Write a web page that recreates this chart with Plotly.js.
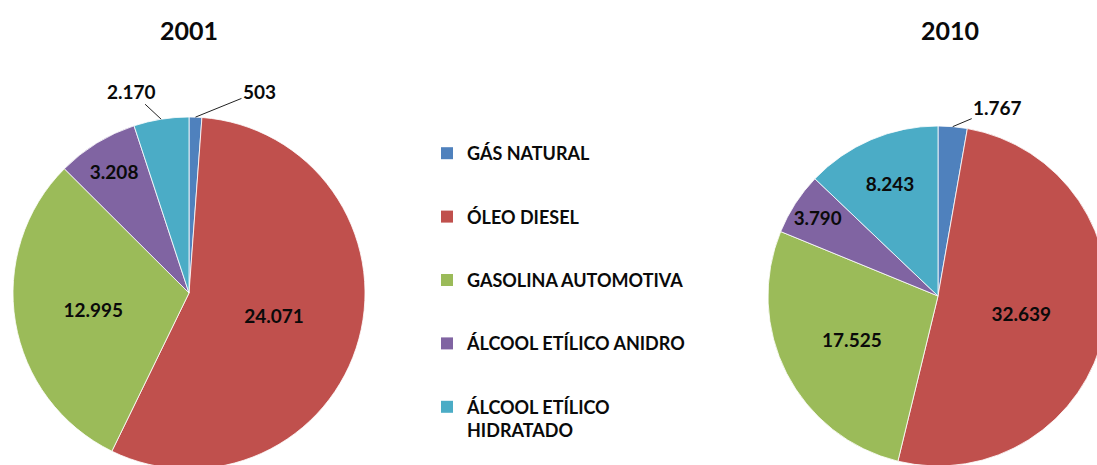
<!DOCTYPE html>
<html>
<head>
<meta charset="utf-8">
<script src="https://cdn.plot.ly/plotly-3.0.1.min.js"></script>
<style>
  html, body { margin: 0; padding: 0; overflow: hidden; background: #fff; }
  #chart { width: 1120px; height: 480px; }
</style>
</head>
<body>
<div id="chart"></div>
<script>
// ---- data ----
const categories = ['GÁS NATURAL', 'ÓLEO DIESEL', 'GASOLINA AUTOMOTIVA', 'ÁLCOOL ETÍLICO ANIDRO', 'ÁLCOOL ETÍLICO<br>HIDRATADO'];
const values2001 = [503, 24071, 12995, 3208, 2170];
const values2010 = [1767, 32639, 17525, 3790, 8243];
const years = ['2001', '2010'];
const colors = ['#4F81BD', '#C0504D', '#9BBB59', '#8064A2', '#4BACC6'];

// ---- layout constants ----
const W = 1120, H = 480;
const FONT = 'Lato, "Open Sans", sans-serif';
const pies = [
  { vals: values2001, cx: 189, cy: 293, r: 176, pos: ['none', 'inside', 'inside', 'inside', 'none'],
    outside: { 0: [64, -26], 4: [-30, -28] }, titleX: 189 },
  { vals: values2010, cx: 938, cy: 296, r: 170, pos: ['none', 'inside', 'inside', 'inside', 'inside'],
    outside: { 0: [45, -19] }, titleX: 950 }
];

function fmt(v) { return String(v).replace(/\B(?=(\d{3})+(?!\d))/g, '.'); }

const traces = [];
const annotations = [];

pies.forEach((p, k) => {
  traces.push({
    type: 'pie',
    labels: categories,
    values: p.vals,
    sort: false,
    direction: 'clockwise',
    rotation: 0,
    marker: { colors: colors, line: { color: '#ffffff', width: 0.8 } },
    texttemplate: '%{value:,}',
    textposition: p.pos,
    insidetextorientation: 'horizontal',
    insidetextfont: { family: FONT, size: 19, color: '#0a0a0a', weight: 'bold' },
    hoverinfo: 'label+value',
    showlegend: false,
    domain: { x: [(p.cx - p.r) / W, (p.cx + p.r) / W], y: [1 - (p.cy + p.r) / H, 1 - (p.cy - p.r) / H] }
  });
  // year title
  annotations.push({
    text: years[k], xref: 'paper', yref: 'paper', x: p.titleX / W, y: 1 - 30 / H,
    xanchor: 'center', yanchor: 'middle', showarrow: false,
    font: { family: FONT, size: 25, color: '#0a0a0a', weight: 'bold' }
  });
  // outside labels with leader lines, positioned from the data
  const total = p.vals.reduce((a, b) => a + b, 0);
  let cum = 0;
  p.vals.forEach((v, i) => {
    const mid = (cum + v / 2) / total * 2 * Math.PI;
    cum += v;
    if (p.outside[i]) {
      const px = p.cx + p.r * Math.sin(mid);
      const py = p.cy - p.r * Math.cos(mid);
      annotations.push({
        text: fmt(v), xref: 'paper', yref: 'paper', x: px / W, y: 1 - py / H,
        showarrow: true, arrowhead: 0, arrowwidth: 1, arrowcolor: '#222',
        ax: p.outside[i][0], ay: p.outside[i][1], standoff: 0,
        font: { family: FONT, size: 19, color: '#0a0a0a', weight: 'bold' }
      });
    }
  });
});

// legend entries (one per category, spaced as groups)
categories.forEach((c, i) => {
  traces.push({
    type: 'scatter', mode: 'markers', x: [null], y: [null],
    name: c, legendgroup: 'g' + i,
    marker: { symbol: 'square', size: 12, color: colors[i] },
    hoverinfo: 'skip', showlegend: true
  });
});

const layout = {
  width: W, height: H,
  margin: { l: 0, r: 0, t: 0, b: 0 },
  paper_bgcolor: '#ffffff', plot_bgcolor: '#ffffff',
  separators: ',.',
  xaxis: { visible: false }, yaxis: { visible: false },
  showlegend: true,
  legend: {
    x: 427 / W, xanchor: 'left', y: 1 - 135 / H, yanchor: 'top',
    tracegroupgap: 37, valign: 'top', bgcolor: 'rgba(0,0,0,0)',
    font: { family: FONT, size: 18, color: '#0a0a0a', weight: 'bold' }
  },
  annotations: annotations
};

Plotly.newPlot('chart', traces, layout, { displayModeBar: false, staticPlot: true });
</script>
</body>
</html>
